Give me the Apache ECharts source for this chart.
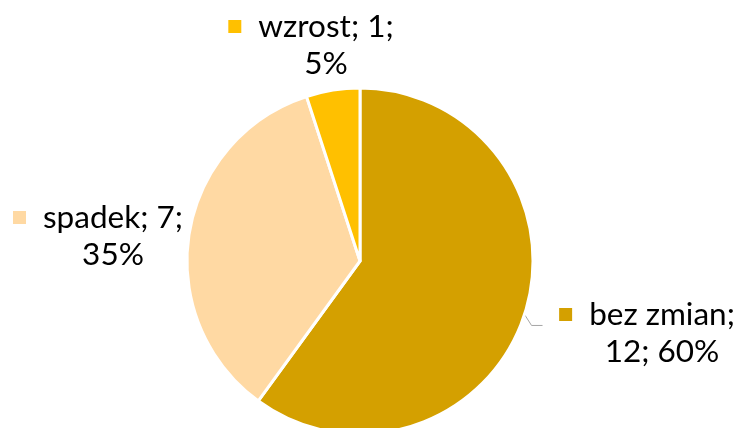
<!DOCTYPE html>
<html>
<head>
<meta charset="utf-8">
<script src="https://cdn.jsdelivr.net/npm/echarts@6/dist/echarts.min.js"></script>
<style>
  html, body { margin: 0; padding: 0; background: #fff; }
  #chart { width: 740px; height: 428px; }
</style>
</head>
<body>
<div id="chart"></div>
<script>
'use strict';

var categories = ['bez zmian', 'spadek', 'wzrost'];
var counts = [12, 7, 1];
var colors = ['#D4A000', '#FFD9A3', '#FFC000'];

// where each label block is centred
var labelSpots = [
    { x: 662, y: 333 },
    { x: 113, y: 236 },
    { x: 326, y: 45 }
];

var chart = echarts.init(document.getElementById('chart'));

var rich = {
    t: { fontFamily: 'Lato', fontSize: 31.5, color: '#000', lineHeight: 37 },
    gap: { width: 17 },
    pad: { width: 30 }
};
categories.forEach(function (c, i) {
    rich['m' + i] = { backgroundColor: colors[i], width: 13, height: 13 };
});

var option = {
    animation: false,
    series: [
        {
            type: 'pie',
            center: [360, 261],
            radius: 173,
            startAngle: 90,
            clockwise: true,
            itemStyle: { borderColor: '#fff', borderWidth: 3 },
            label: {
                show: true,
                position: 'outside',
                overflow: 'none',
                formatter: function (p) {
                    var first, second;
                    if (p.dataIndex === 0) {
                        first = p.name + ';';
                        second = p.value + '; ' + Math.round(p.percent) + '%';
                    } else {
                        first = p.name + '; ' + p.value + ';';
                        second = Math.round(p.percent) + '%';
                    }
                    return '{m' + p.dataIndex + '|}{gap|}{t|' + first + '}{pad|}\n{t|' + second + '}';
                },
                rich: rich,
                align: 'center'
            },
            labelLine: {
                show: true,
                length: 8,
                length2: 10,
                lineStyle: { color: '#A6A6A6', width: 1 }
            },
            labelLayout: function (params) {
                var s = labelSpots[params.dataIndex];
                var res = { x: s.x, y: s.y, align: 'center', verticalAlign: 'middle' };
                var pts = params.labelLinePoints;
                if (params.dataIndex === 0 && pts) {
                    // short elbow: down-right from the slice edge, then flat
                    var p0 = pts[0];
                    res.labelLinePoints = [
                        [p0[0], p0[1]],
                        [p0[0] + 7, p0[1] + 11],
                        [p0[0] + 18, p0[1] + 11]
                    ];
                }
                return res;
            },
            data: categories.map(function (c, i) {
                var d = { name: c, value: counts[i], itemStyle: { color: colors[i] } };
                if (i > 0) d.labelLine = { show: false };
                return d;
            })
        }
    ]
};
chart.setOption(option);
</script>
</body>
</html>
